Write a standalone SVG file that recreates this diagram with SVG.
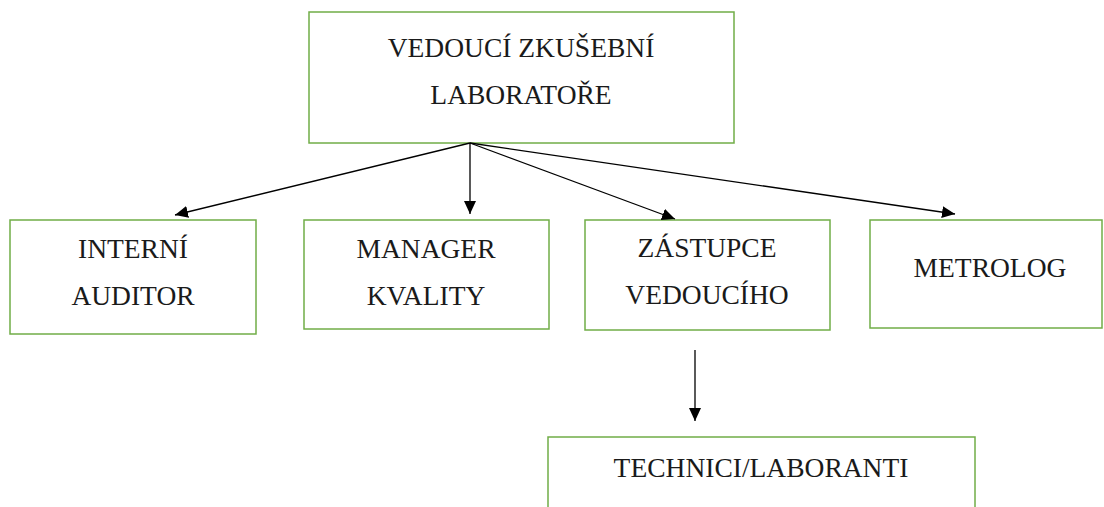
<svg xmlns="http://www.w3.org/2000/svg" width="1104" height="507" viewBox="0 0 1104 507">
<style>
.box{fill:#fff;stroke:#70AD47;stroke-width:1.5}
.t{font-family:"Liberation Serif","Times New Roman",serif;font-size:27.5px;fill:#1a1a1a;text-anchor:middle}
.c{stroke:#000;stroke-width:1.3;fill:none;marker-end:url(#ah)}
</style>
<defs>
<marker id="ah" markerUnits="userSpaceOnUse" markerWidth="14" markerHeight="12" refX="13" refY="6" orient="auto">
<path d="M0,0 L13,6 L0,12 Z" fill="#000"/>
</marker>
</defs>
<rect width="1104" height="507" fill="#fff"/>
<g id="vedouci">
<rect class="box" x="309" y="12" width="425" height="131"/>
<text class="t" x="521" y="57">VEDOUCÍ ZKUŠEBNÍ</text>
<text class="t" x="521" y="104">LABORATOŘE</text>
</g>
<g id="interni-auditor">
<rect class="box" x="10" y="220" width="246" height="114"/>
<text class="t" x="133" y="258">INTERNÍ</text>
<text class="t" x="133" y="305">AUDITOR</text>
</g>
<g id="manager-kvality">
<rect class="box" x="304" y="220" width="245" height="109"/>
<text class="t" x="426" y="258">MANAGER</text>
<text class="t" x="426" y="305">KVALITY</text>
</g>
<g id="zastupce-vedouciho">
<rect class="box" x="585" y="220" width="245" height="110"/>
<text class="t" x="707" y="257">ZÁSTUPCE</text>
<text class="t" x="707" y="304">VEDOUCÍHO</text>
</g>
<g id="metrolog">
<rect class="box" x="870" y="220" width="232" height="108"/>
<text class="t" x="990" y="277">METROLOG</text>
</g>
<g id="technici-laboranti">
<rect class="box" x="548" y="437" width="427" height="90"/>
<text class="t" x="761" y="477">TECHNICI/LABORANTI</text>
</g>
<g id="connectors">
<line class="c" x1="470" y1="143" x2="175" y2="215"/>
<line class="c" x1="470" y1="143" x2="470" y2="214"/>
<line class="c" x1="470" y1="143" x2="675" y2="219"/>
<line class="c" x1="470" y1="143" x2="955" y2="214"/>
<line class="c" x1="695" y1="350" x2="695" y2="421"/>
</g>
</svg>
